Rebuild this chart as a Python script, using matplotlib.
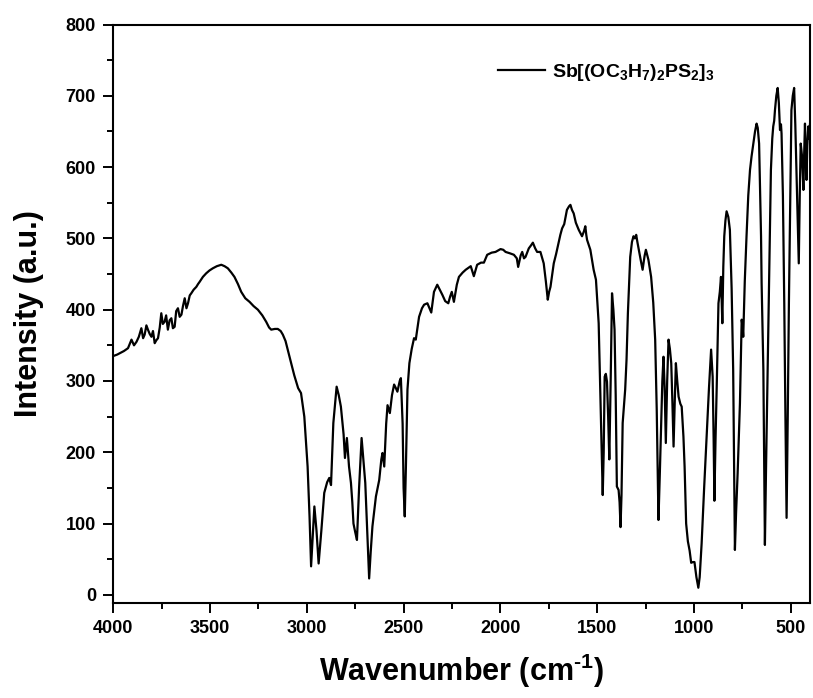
import matplotlib
matplotlib.use("Agg")
import matplotlib.pyplot as plt
from matplotlib.ticker import MultipleLocator

plt.rcParams['font.family'] = ['Liberation Sans', 'DejaVu Sans']
plt.rcParams['font.weight'] = 'bold'
plt.rcParams['mathtext.fontset'] = 'custom'
plt.rcParams['mathtext.rm'] = 'Liberation Sans:bold'
plt.rcParams['mathtext.bf'] = 'Liberation Sans:bold'
plt.rcParams['mathtext.it'] = 'Liberation Sans:bold'
plt.rcParams['mathtext.default'] = 'bf'

series_label = r'Sb[(OC$_3$H$_7$)$_2$PS$_2$]$_3$'

wavenumber = [
    4000, 3980, 3966, 3945, 3924, 3915, 3906, 3893, 3880, 3868, 3855, 3846, 3838, 3829, 3821, 3812,
    3803, 3795, 3786, 3778, 3769, 3760, 3752, 3744, 3735, 3727, 3718, 3709, 3700, 3692, 3683, 3675,
    3666, 3657, 3648, 3640, 3631, 3622, 3614, 3605, 3597, 3585, 3571, 3562, 3554, 3537, 3520, 3503,
    3486, 3465, 3442, 3425, 3408, 3390, 3374, 3356, 3339, 3318, 3296, 3275, 3253, 3230, 3210, 3195,
    3184, 3165, 3150, 3135, 3124, 3110, 3099, 3081, 3065, 3045, 3030, 3013, 2996, 2986, 2978, 2970,
    2961, 2950, 2939, 2925, 2910, 2895, 2884, 2875, 2863, 2846, 2835, 2824, 2810, 2803, 2793, 2782,
    2772, 2765, 2759, 2750, 2741, 2730, 2717, 2708, 2698, 2688, 2678, 2670, 2661, 2643, 2626, 2615,
    2609, 2600, 2590, 2583, 2571, 2560, 2549, 2540, 2532, 2520, 2514, 2505, 2500, 2494, 2488, 2480,
    2470, 2458, 2446, 2437, 2420, 2405, 2394, 2377, 2357, 2343, 2326, 2300, 2285, 2269, 2260, 2251,
    2240, 2225, 2214, 2195, 2179, 2153, 2137, 2120, 2100, 2085, 2068, 2045, 2025, 1999, 1985, 1973,
    1950, 1930, 1915, 1908, 1895, 1887, 1878, 1870, 1853, 1842, 1832, 1820, 1810, 1793, 1776, 1765,
    1755, 1748, 1741, 1724, 1712, 1698, 1690, 1681, 1670, 1656, 1645, 1638, 1630, 1621, 1610, 1595,
    1578, 1568, 1561, 1556, 1552, 1535, 1518, 1506, 1492, 1480, 1471, 1466, 1461, 1455, 1449, 1443,
    1437, 1430, 1423, 1416, 1410, 1404, 1398, 1389, 1384, 1379, 1374, 1368, 1355, 1348, 1341, 1329,
    1320, 1312, 1305, 1298, 1292, 1286, 1275, 1265, 1255, 1248, 1235, 1221, 1210, 1200, 1192, 1183,
    1176, 1169, 1163, 1157, 1151, 1145, 1138, 1131, 1124, 1117, 1111, 1105, 1099, 1093, 1086, 1079,
    1070, 1063, 1054, 1048, 1040, 1031, 1022, 1014, 1005, 997, 987, 977, 970, 960, 947, 934,
    922, 911, 903, 898, 894, 888, 882, 873, 866, 860, 853, 848, 843, 837, 831, 822,
    814, 805, 797, 792, 788, 782, 774, 762, 753, 748, 745, 737, 728, 719, 710, 702,
    693, 684, 676, 670, 663, 658, 653, 650, 645, 641, 637, 633, 627, 619, 610, 602,
    595, 590, 585, 581, 574, 567, 561, 555, 550, 547, 540, 533, 527, 521, 515, 509,
    502, 496, 489, 482, 476, 470, 464, 458, 453, 448, 441, 434, 430, 426, 422, 418,
    414, 409, 404, 400,
]

intensity = [
    335, 337, 339, 342, 346, 352, 358, 350, 355, 362, 374, 360, 365, 378, 372, 366,
    362, 370, 353, 357, 360, 375, 395, 380, 383, 392, 372, 385, 388, 374, 376, 398,
    402, 390, 393, 405, 416, 402, 409, 420, 423, 428, 432, 436, 439, 446, 451, 455,
    458, 461, 463, 461, 458, 452, 446, 436, 425, 416, 411, 405, 400, 392, 383, 375,
    372, 373, 373, 370, 365, 356, 344, 325, 308, 290, 283, 250, 180, 110, 40, 80,
    124, 90, 44, 90, 143, 158, 164, 154, 241, 292, 280, 264, 225, 192, 220, 180,
    157, 130, 100, 88, 77, 150, 220, 190, 157, 90, 23, 60, 96, 138, 161, 190,
    199, 180, 240, 266, 255, 280, 295, 290, 285, 300, 304, 240, 150, 110, 180, 288,
    325, 345, 360, 358, 390, 402, 407, 409, 396, 425, 435, 421, 412, 409, 418, 425,
    411, 435, 446, 452, 456, 461, 447, 463, 466, 466, 477, 480, 481, 485, 484, 481,
    479, 477, 472, 460, 476, 481, 472, 474, 486, 490, 494, 486, 481, 481, 465, 440,
    414, 425, 432, 465, 478, 495, 505, 514, 520, 540, 545, 547, 540, 535, 522, 512,
    503, 510, 517, 505, 498, 484, 456, 442, 381, 241, 140, 200, 306, 310, 299, 250,
    190, 300, 423, 400, 372, 280, 152, 147, 130, 95, 140, 241, 288, 330, 395, 474,
    495, 503, 500, 505, 495, 486, 470, 456, 475, 484, 470, 446, 410, 358, 260, 105,
    170, 241, 300, 334, 290, 213, 300, 358, 345, 325, 270, 208, 270, 325, 300, 278,
    268, 264, 222, 180, 100, 75, 62, 45, 46, 46, 25, 10, 25, 72, 150, 222,
    290, 344, 306, 220, 132, 220, 292, 409, 425, 446, 381, 460, 503, 525, 538, 530,
    512, 430, 316, 180, 63, 115, 170, 269, 386, 375, 362, 440, 503, 560, 596, 615,
    633, 650, 661, 655, 633, 570, 503, 437, 370, 316, 200, 70, 180, 316, 470, 596,
    640, 657, 665, 680, 700, 711, 690, 652, 660, 647, 560, 409, 250, 108, 250, 409,
    560, 680, 700, 711, 660, 596, 530, 465, 560, 633, 615, 568, 620, 661, 620, 582,
    630, 657, 640, 660,
]

x_ticks = [4000, 3500, 3000, 2500, 2000, 1500, 1000, 500]
y_ticks = [0, 100, 200, 300, 400, 500, 600, 700, 800]

fig = plt.figure(figsize=(8.13, 6.98), dpi=100)
ax = fig.add_axes([113.3 / 813, (698 - 602.7) / 698, (810 - 113.3) / 813, (602.7 - 24.5) / 698])

ax.plot(wavenumber, intensity, color='black', linewidth=1.6, label=series_label)

ax.set_xlim(4000, 400)
ax.set_ylim(-11, 800)
ax.set_xticks(x_ticks)
ax.set_yticks(y_ticks)
ax.xaxis.set_minor_locator(MultipleLocator(250))
ax.yaxis.set_minor_locator(MultipleLocator(50))

ax.tick_params(which='major', direction='out', length=7.5, width=1.4, labelsize=13, pad=5)
ax.tick_params(which='minor', direction='out', length=4.2, width=1.4)
for lab in ax.get_xticklabels() + ax.get_yticklabels():
    lab.set_fontweight('bold')
for s in ax.spines.values():
    s.set_linewidth(1.5)

ax.set_xlabel(r'Wavenumber (cm$^{\text{-}1}$)', fontsize=22, fontweight='bold')
ax.set_ylabel('Intensity (a.u.)', fontsize=22, fontweight='bold')
ax.xaxis.set_label_coords(0.5, -0.085)
ax.yaxis.set_label_coords(-0.099, 0.5)

leg = ax.legend(loc='center left', bbox_to_anchor=(0.552, 0.9166), frameon=False,
                fontsize=14, handlelength=2.4, handletextpad=0.4,
                borderpad=0, borderaxespad=0)
for t in leg.get_texts():
    t.set_fontweight('bold')

fig.savefig('out.png', dpi=100)
